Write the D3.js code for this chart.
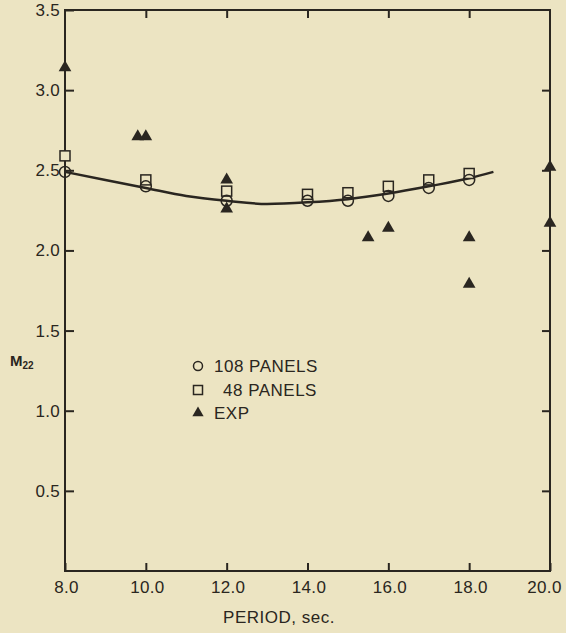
<!DOCTYPE html>
<html><head><meta charset="utf-8">
<script src="https://cdn.jsdelivr.net/npm/d3@7"></script>
<style>
html,body{margin:0;padding:0;background:#ece4c2;}
svg{display:block;}
text{font-family:"Liberation Sans","DejaVu Sans",sans-serif;fill:#2a2620;}
</style></head>
<body>
<script>
// ---- data ----
const periods108 = [8.0, 10.0, 12.0, 14.0, 15.0, 16.0, 17.0, 18.0];
const m22_108    = [2.49, 2.40, 2.31, 2.31, 2.31, 2.34, 2.39, 2.44];
const periods48  = [8.0, 10.0, 12.0, 14.0, 15.0, 16.0, 17.0, 18.0];
const m22_48     = [2.59, 2.44, 2.37, 2.35, 2.36, 2.40, 2.44, 2.48];
const periodsExp = [8.0, 9.8, 10.0, 12.0, 12.0, 15.5, 16.0, 18.0, 18.0, 20.0, 20.0];
const m22_Exp    = [3.14, 2.71, 2.71, 2.44, 2.26, 2.08, 2.14, 2.08, 1.79, 2.52, 2.17];
const curvePeriods = [8.0, 9.0, 10.0, 11.0, 12.0, 13.0, 14.0, 15.0, 16.0, 17.0, 18.0, 18.6];
const curveM22     = [2.49, 2.44, 2.39, 2.34, 2.31, 2.29, 2.30, 2.32, 2.355, 2.40, 2.45, 2.49];
const xTicks = [8, 10, 12, 14, 16, 18, 20];
const xTickLabels = ["8.0","10.0","12.0","14.0","16.0","18.0","20.0"];
const yTicks = [0.5, 1.0, 1.5, 2.0, 2.5, 3.0, 3.5];
const yTickLabels = ["0.5","1.0","1.5","2.0","2.5","3.0","3.5"];
const legendLabels = ["108 PANELS", "48 PANELS", "EXP"];

const W = 566, H = 633;
const ink = "#2a2620";
const svg = d3.select("body").append("svg").attr("width", W).attr("height", H);
svg.append("rect").attr("width", W).attr("height", H).attr("fill", "#ece4c2");

const x = d3.scaleLinear().domain([8, 20]).range([65, 550]);
const y = d3.scaleLinear().domain([0, 3.5]).range([571, 10]);

// frame
svg.append("rect").attr("x", x(8)).attr("y", y(3.5)).attr("width", x(20)-x(8)).attr("height", y(0)-y(3.5))
  .attr("fill", "none").attr("stroke", ink).attr("stroke-width", 2);

// axes with inward ticks
const fs = 17;
const axBottom = d3.axisBottom(x).tickValues(xTicks).tickSize(-8).tickFormat((d,i)=>xTickLabels[i]).tickPadding(10);
const gb = svg.append("g").attr("transform", `translate(0,${y(0)})`).call(axBottom);
const axTop = d3.axisTop(x).tickValues(xTicks.slice(1,-1)).tickSize(-8).tickFormat("");
const gt = svg.append("g").attr("transform", `translate(0,${y(3.5)})`).call(axTop);
const axLeft = d3.axisLeft(y).tickValues(yTicks).tickSize(-9).tickFormat((d,i)=>yTickLabels[i]).tickPadding(4);
const gl = svg.append("g").attr("transform", `translate(${x(8)},0)`).call(axLeft);
const axRight = d3.axisRight(y).tickValues(yTicks.slice(0,-1)).tickSize(-8).tickFormat("");
const gr = svg.append("g").attr("transform", `translate(${x(20)},0)`).call(axRight);
[gb, gt, gl, gr].forEach(a => {
  a.select(".domain").remove();
  a.selectAll(".tick line").attr("stroke", ink).attr("stroke-width", 2);
  a.selectAll(".tick text").attr("font-size", fs).attr("fill", ink).attr("letter-spacing", 0.3);
});
gb.selectAll(".tick text").attr("dy", "0.71em").attr("dx", (d,i) => i === xTicks.length - 1 ? -6 : 1);
gl.selectAll(".tick text").attr("x", -5);

// curve
const line = d3.line().x(d => x(d[0])).y(d => y(d[1])).curve(d3.curveMonotoneX);
svg.append("path").datum(curvePeriods.map((p,i)=>[p, curveM22[i]]))
  .attr("d", line).attr("fill", "none").attr("stroke", ink).attr("stroke-width", 2.5);

// markers
const tri = d3.symbol().type(d3.symbolTriangle).size(70);
svg.append("g").selectAll("path").data(periodsExp.map((p,i)=>[p, m22_Exp[i]])).join("path")
  .attr("d", tri).attr("transform", d => `translate(${x(d[0])},${y(d[1])})`).attr("fill", ink);
svg.append("g").selectAll("rect").data(periods48.map((p,i)=>[p, m22_48[i]])).join("rect")
  .attr("x", d => x(d[0]) - 5).attr("y", d => y(d[1]) - 5).attr("width", 10).attr("height", 10)
  .attr("fill", "#ece4c2").attr("stroke", ink).attr("stroke-width", 1.5);
svg.append("g").selectAll("circle").data(periods108.map((p,i)=>[p, m22_108[i]])).join("circle")
  .attr("cx", d => x(d[0])).attr("cy", d => y(d[1])).attr("r", 5.5)
  .attr("fill", "none").attr("stroke", ink).attr("stroke-width", 1.5);

// legend
const lg = svg.append("g");
const lx = 198, ly = [366, 390, 413];
lg.append("circle").attr("cx", lx).attr("cy", ly[0]).attr("r", 4.5).attr("fill", "none").attr("stroke", ink).attr("stroke-width", 1.5);
lg.append("rect").attr("x", lx-4.5).attr("y", ly[1]-4.5).attr("width", 9).attr("height", 9).attr("fill", "none").attr("stroke", ink).attr("stroke-width", 1.5);
lg.append("path").attr("d", d3.symbol().type(d3.symbolTriangle).size(55)).attr("transform", `translate(${lx},${ly[2]})`).attr("fill", ink);
const lxt = [214, 223, 214];
legendLabels.forEach((t,i) => {
  lg.append("text").attr("x", lxt[i]).attr("y", ly[i]).attr("dy", "0.36em").attr("font-size", fs).attr("letter-spacing", 0.5).text(t);
});

// axis titles
svg.append("text").attr("x", 279).attr("y", 623).attr("text-anchor", "middle").attr("font-size", fs).attr("letter-spacing", 0.5).text("PERIOD, sec.");
const yl = svg.append("text").attr("x", 10).attr("y", 366).attr("font-size", 15).attr("font-weight", "bold");
yl.append("tspan").text("M");
yl.append("tspan").attr("font-size", 10).attr("dy", 3).text("22");
</script>
</body></html>
